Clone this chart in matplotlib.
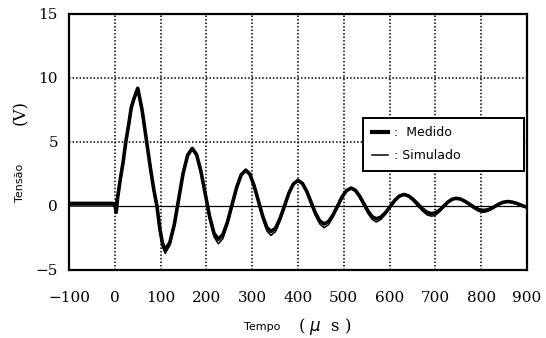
import matplotlib.pyplot as plt
from matplotlib.lines import Line2D

# tempo (us) e tensao (V)
tempo = [-100, -50, -5, 0, 3, 6, 12, 18, 24, 30, 36, 42, 46, 50, 54, 60,
         66, 72, 78, 85, 92, 98, 104, 110, 120, 130, 139.5, 149, 159, 169,
         178.5, 188, 197.5, 207, 216.5, 226, 236, 246, 256, 266, 276, 286,
         295, 304, 313.5, 323, 332, 341, 351, 360.5, 370.5, 380, 390, 400,
         409.5, 419, 428.5, 438, 447.5, 457, 467, 476.5, 486.5, 496, 506, 516,
         525, 534, 543.5, 553, 562, 571, 581, 591, 601, 611, 621, 631,
         641, 651, 661.5, 672, 682, 692, 701, 710, 718.5, 727, 736, 745,
         755, 765, 775, 785, 795, 805, 814, 823, 831.5, 840, 849, 858,
         868, 878, 888, 896]

medido = [0.2, 0.2, 0.2, 0.1, -0.5, 0.6, 2.1, 3.4, 5.0, 6.3, 7.7, 8.4, 8.8, 9.2, 8.5, 7.4,
          5.9, 4.4, 2.9, 1.3, 0.0, -1.7, -2.9, -3.4, -2.87, -1.43, 0.55, 2.53, 3.97, 4.5,
          4.02, 2.72, 0.95, -0.83, -2.12, -2.6, -2.24, -1.25, 0.1, 1.45, 2.44, 2.8,
          2.48, 1.6, 0.4, -0.8, -1.68, -2.0, -1.73, -1.0, 0.0, 1.0, 1.73, 2.0,
          1.77, 1.15, 0.3, -0.55, -1.17, -1.4, -1.21, -0.7, 0.0, 0.7, 1.21, 1.4,
          1.24, 0.8, 0.2, -0.4, -0.84, -1.0, -0.87, -0.52, -0.05, 0.43, 0.77, 0.9,
          0.8, 0.53, 0.15, -0.23, -0.5, -0.6, -0.52, -0.3, 0.0, 0.3, 0.52, 0.6,
          0.54, 0.36, 0.13, -0.11, -0.29, -0.35, -0.3, -0.18, 0.0, 0.18, 0.3, 0.35,
          0.3, 0.2, 0.05, -0.05]

simulado = [0.0, 0.0, 0.0, 0.0, 0.4, 1.0, 2.3, 3.6, 5.0, 6.3, 7.5, 8.3, 8.7, 8.8, 8.6, 7.6,
            6.1, 4.5, 2.9, 1.1, -0.3, -2.0, -3.2, -3.7, -3.1, -1.6, 0.4, 2.4, 3.9, 4.4,
            3.9, 2.55, 0.75, -1.05, -2.4, -2.95, -2.55, -1.45, 0.0, 1.35, 2.35, 2.75,
            2.4, 1.5, 0.25, -1.0, -1.95, -2.3, -2.0, -1.2, -0.1, 0.95, 1.7, 1.95,
            1.7, 1.05, 0.15, -0.75, -1.4, -1.7, -1.45, -0.85, -0.05, 0.65, 1.15, 1.35,
            1.15, 0.7, 0.05, -0.6, -1.05, -1.25, -1.05, -0.65, -0.1, 0.4, 0.72, 0.85,
            0.72, 0.42, 0.0, -0.4, -0.7, -0.8, -0.7, -0.42, -0.05, 0.28, 0.5, 0.58,
            0.5, 0.3, 0.05, -0.22, -0.42, -0.5, -0.42, -0.25, -0.02, 0.18, 0.3, 0.35,
            0.28, 0.15, 0.0, -0.1]

xticks = [-100, 0, 100, 200, 300, 400, 500, 600, 700, 800, 900]
yticks = [-5, 0, 5, 10, 15]

fig = plt.figure(figsize=(5.46, 3.38), dpi=100)
ax = fig.add_axes([0.1264, 0.2012, 0.8388, 0.7574])

dot = (0, (1, 1.3))
for x in xticks[1:-1]:
    ax.axvline(x, color='black', lw=1.1, ls=dot, zorder=1)
for y in [5, 10]:
    ax.axhline(y, color='black', lw=1.1, ls=dot, zorder=1)
ax.plot([0, 900], [0, 0], color='black', lw=0.9, zorder=1)

ax.plot(tempo, simulado, color='black', lw=1.1, zorder=3)
ax.plot(tempo, medido, color='black', lw=2.6, zorder=2)

ax.set_xlim(-100, 900)
ax.set_ylim(-5, 15)
ax.set_xticks(xticks)
ax.set_yticks(yticks)
ax.tick_params(length=0, labelsize=11)
ax.tick_params(axis='x', pad=15)
ax.tick_params(axis='y', pad=8)
for lab in ax.get_xticklabels() + ax.get_yticklabels():
    lab.set_family('DejaVu Serif')
for sp in ax.spines.values():
    sp.set_linewidth(1.6)

handles = [Line2D([], [], color='black', lw=3),
           Line2D([], [], color='black', lw=1.1)]
leg = ax.legend(handles, [':  Medido', ': Simulado'], loc='upper left',
                bbox_to_anchor=(0.642, 0.585, 0.351, 0.01), mode='expand',
                fancybox=False, edgecolor='black', framealpha=1,
                fontsize=9, handlelength=1.3, handletextpad=0.5,
                borderpad=0.7, labelspacing=0.8, borderaxespad=0)
leg.get_frame().set_linewidth(1.4)

fig.text(0.037, 0.46, 'Tensão', rotation=90, ha='center', va='center', fontsize=8)
fig.text(0.037, 0.668, '(V)', rotation=90, ha='center', va='center',
         fontsize=12, family='DejaVu Serif')
fig.text(0.48, 0.033, 'Tempo', ha='center', va='center', fontsize=8)
fig.text(0.595, 0.033, '( $\\mu$  s )', ha='center', va='center',
         fontsize=12, family='DejaVu Serif')

fig.savefig('out.png', dpi=100)
